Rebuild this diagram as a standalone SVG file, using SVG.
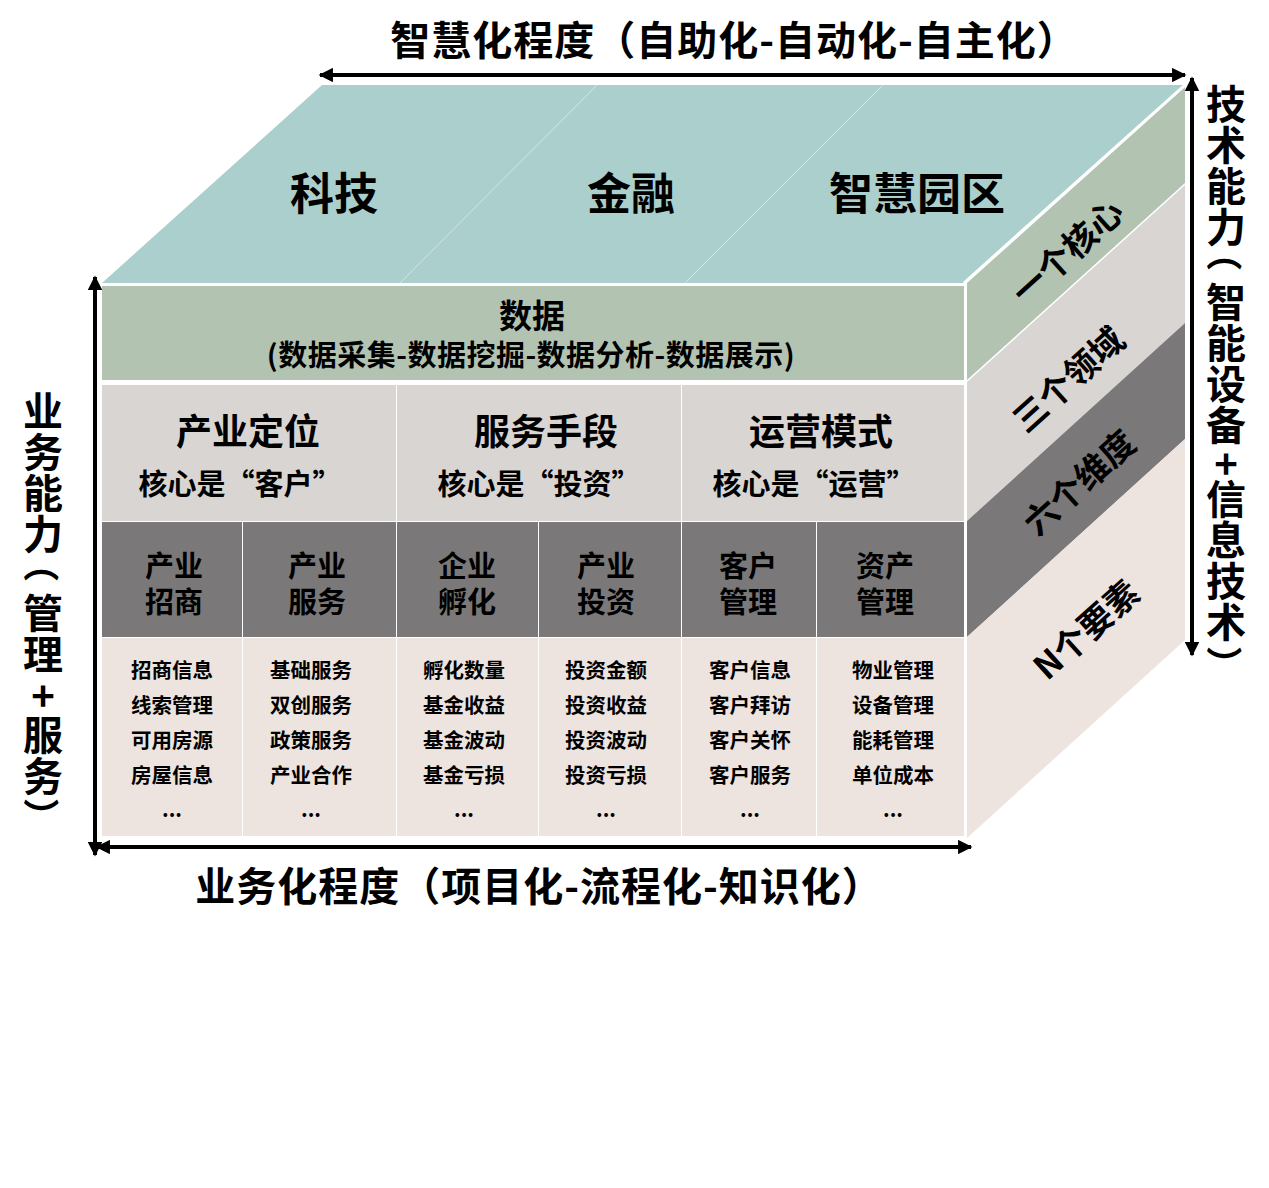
<svg xmlns="http://www.w3.org/2000/svg" width="1269" height="1188" viewBox="0 0 1269 1188">
<defs>
<marker id="ah" viewBox="0 0 10 10" refX="9" refY="5" markerWidth="4" markerHeight="3.6" orient="auto-start-reverse" markerUnits="strokeWidth">
<path d="M0,0 L10,5 L0,10 z" fill="#000"/>
</marker>
<style>
text{font-family:"Noto Sans CJK SC","Noto Sans",sans-serif;font-weight:700;fill:#000;}
.c{text-anchor:middle;}
.t44{font-size:44px;}
.t40{font-size:40px;letter-spacing:1px;}
.t36{font-size:36px;}
.t34{font-size:34px;}
.t29{font-size:29px;}
.t21{font-size:20.5px;}
.vert{writing-mode:vertical-rl;font-size:40px;letter-spacing:1px;}
.par{font-size:36px;text-anchor:middle;dominant-baseline:central;}
.plus{font-size:40px;text-anchor:middle;dominant-baseline:central;}
.sage{fill:#b3c3b2;}
.lg{fill:#d9d5d2;}
.dk{fill:#7b7879;}
.pk{fill:#ede3df;}
.teal{fill:#abcfcc;}
.arr{stroke:#000;stroke-width:4;fill:none;marker-start:url(#ah);marker-end:url(#ah);}
</style>
</defs>
<rect width="1269" height="1188" fill="#fff"/>

<!-- top face -->
<g id="top-face">
<polygon class="teal" points="102,283 964,283 1185,85 322,85"/>
<line x1="400" y1="283" x2="597" y2="85" stroke="#d2e6e4" stroke-width="1"/>
<line x1="685" y1="283" x2="883" y2="85" stroke="#d2e6e4" stroke-width="1"/>
<text class="c t44" x="334" y="210">科技</text>
<text class="c t44" x="631" y="210">金融</text>
<text class="c t44" x="917" y="210">智慧园区</text>
</g>

<!-- right face -->
<g id="right-face">
<polygon class="sage" points="967,283 1185,87 1185,183 967,380"/>
<polygon class="lg" points="967,382 1185,185 1185,323 967,521"/>
<polygon class="dk" points="967,521 1185,323 1185,439 967,637"/>
<polygon class="pk" points="967,637 1185,439 1185,640 967,838"/>
<line x1="964" y1="283" x2="1186" y2="84" stroke="#fff" stroke-width="3"/>
<text class="c t34" x="1066" y="250" dominant-baseline="central" transform="rotate(-42 1066 250)">一个核心</text>
<text class="c t34" x="1067" y="378" dominant-baseline="central" transform="rotate(-42 1067 378)">三个领域</text>
<text class="c t34" x="1078" y="481" dominant-baseline="central" transform="rotate(-42 1078 481)">六个维度</text>
<text class="c t34" x="1085" y="628" dominant-baseline="central" transform="rotate(-42 1085 628)">N个要素</text>
</g>

<!-- data row -->
<g id="data">
<rect class="sage" x="102" y="286" width="862" height="94"/>
<text class="c" x="532" y="328" style="font-size:33px">数据</text>
<text class="c" x="531" y="366" style="font-size:29px;letter-spacing:0.5px">(数据采集-数据挖掘-数据分析-数据展示)</text>
</g>

<!-- level 2 -->
<g id="chanye-dingwei">
<rect class="lg" x="102" y="385" width="294" height="136"/>
<text class="c t36" x="248" y="445">产业定位</text>
<text class="c t29" x="240" y="495">核心是“客户”</text>
</g>
<g id="fuwu-shouduan">
<rect class="lg" x="397" y="385" width="284" height="136"/>
<text class="c t36" x="546" y="445">服务手段</text>
<text class="c t29" x="539" y="495">核心是“投资”</text>
</g>
<g id="yunying-moshi">
<rect class="lg" x="682" y="385" width="282" height="136"/>
<text class="c t36" x="821" y="445">运营模式</text>
<text class="c t29" x="814" y="495">核心是“运营”</text>
</g>

<!-- level 3 -->
<g id="zhaoshang">
<rect class="dk" x="102" y="522" width="140" height="115"/>
<text class="c t29" x="174" y="577">产业</text>
<text class="c t29" x="174" y="613">招商</text>
</g>
<g id="chanye-fuwu">
<rect class="dk" x="243" y="522" width="153" height="115"/>
<text class="c t29" x="317" y="577">产业</text>
<text class="c t29" x="317" y="613">服务</text>
</g>
<g id="fuhua">
<rect class="dk" x="397" y="522" width="141" height="115"/>
<text class="c t29" x="467" y="577">企业</text>
<text class="c t29" x="467" y="613">孵化</text>
</g>
<g id="touzi">
<rect class="dk" x="539" y="522" width="142" height="115"/>
<text class="c t29" x="606" y="577">产业</text>
<text class="c t29" x="606" y="613">投资</text>
</g>
<g id="kehu">
<rect class="dk" x="682" y="522" width="134" height="115"/>
<text class="c t29" x="748" y="577">客户</text>
<text class="c t29" x="748" y="613">管理</text>
</g>
<g id="zichan">
<rect class="dk" x="817" y="522" width="147" height="115"/>
<text class="c t29" x="885" y="577">资产</text>
<text class="c t29" x="885" y="613">管理</text>
</g>

<!-- level 4 -->
<g id="items-1">
<rect class="pk" x="102" y="638" width="140" height="198"/>
<text class="c t21" x="172" y="678">招商信息</text>
<text class="c t21" x="172" y="713">线索管理</text>
<text class="c t21" x="172" y="748">可用房源</text>
<text class="c t21" x="172" y="783">房屋信息</text>
<text class="c t21" x="172" y="817">...</text>
</g>
<g id="items-2">
<rect class="pk" x="243" y="638" width="153" height="198"/>
<text class="c t21" x="311" y="678">基础服务</text>
<text class="c t21" x="311" y="713">双创服务</text>
<text class="c t21" x="311" y="748">政策服务</text>
<text class="c t21" x="311" y="783">产业合作</text>
<text class="c t21" x="311" y="817">...</text>
</g>
<g id="items-3">
<rect class="pk" x="397" y="638" width="141" height="198"/>
<text class="c t21" x="464" y="678">孵化数量</text>
<text class="c t21" x="464" y="713">基金收益</text>
<text class="c t21" x="464" y="748">基金波动</text>
<text class="c t21" x="464" y="783">基金亏损</text>
<text class="c t21" x="464" y="817">...</text>
</g>
<g id="items-4">
<rect class="pk" x="539" y="638" width="142" height="198"/>
<text class="c t21" x="606" y="678">投资金额</text>
<text class="c t21" x="606" y="713">投资收益</text>
<text class="c t21" x="606" y="748">投资波动</text>
<text class="c t21" x="606" y="783">投资亏损</text>
<text class="c t21" x="606" y="817">...</text>
</g>
<g id="items-5">
<rect class="pk" x="682" y="638" width="134" height="198"/>
<text class="c t21" x="750" y="678">客户信息</text>
<text class="c t21" x="750" y="713">客户拜访</text>
<text class="c t21" x="750" y="748">客户关怀</text>
<text class="c t21" x="750" y="783">客户服务</text>
<text class="c t21" x="750" y="817">...</text>
</g>
<g id="items-6">
<rect class="pk" x="817" y="638" width="147" height="198"/>
<text class="c t21" x="893" y="678">物业管理</text>
<text class="c t21" x="893" y="713">设备管理</text>
<text class="c t21" x="893" y="748">能耗管理</text>
<text class="c t21" x="893" y="783">单位成本</text>
<text class="c t21" x="893" y="817">...</text>
</g>

<!-- axis labels -->
<g id="label-top"><text class="c t40" x="734" y="55">智慧化程度（自助化-自动化-自主化）</text></g>
<g id="label-bottom"><text class="c t40" x="539" y="901">业务化程度（项目化-流程化-知识化）</text></g>
<g id="label-left">
<text class="vert" x="43" y="391">业务能力</text>
<text class="par" x="43" y="564" transform="rotate(90 43 564)">（</text>
<text class="vert" x="43" y="593">管理</text>
<text class="plus" x="43" y="694">+</text>
<text class="vert" x="43" y="715">服务</text>
<text class="par" x="43" y="816" transform="rotate(90 43 816)">）</text>
</g>
<g id="label-right">
<text class="vert" x="1226" y="84">技术能力</text>
<text class="par" x="1226" y="253" transform="rotate(90 1226 253)">（</text>
<text class="vert" x="1226" y="282">智能设备</text>
<text class="plus" x="1226" y="462">+</text>
<text class="vert" x="1226" y="479">信息技术</text>
<text class="par" x="1226" y="664" transform="rotate(90 1226 664)">）</text>
</g>

<!-- connectors -->
<g id="connectors">
<line class="arr" x1="320" y1="75" x2="1185" y2="75"/>
<line class="arr" x1="1192" y1="78" x2="1192" y2="655"/>
<line class="arr" x1="95" y1="277" x2="95" y2="855"/>
<line class="arr" x1="97" y1="847" x2="971" y2="847"/>
</g>
</svg>
